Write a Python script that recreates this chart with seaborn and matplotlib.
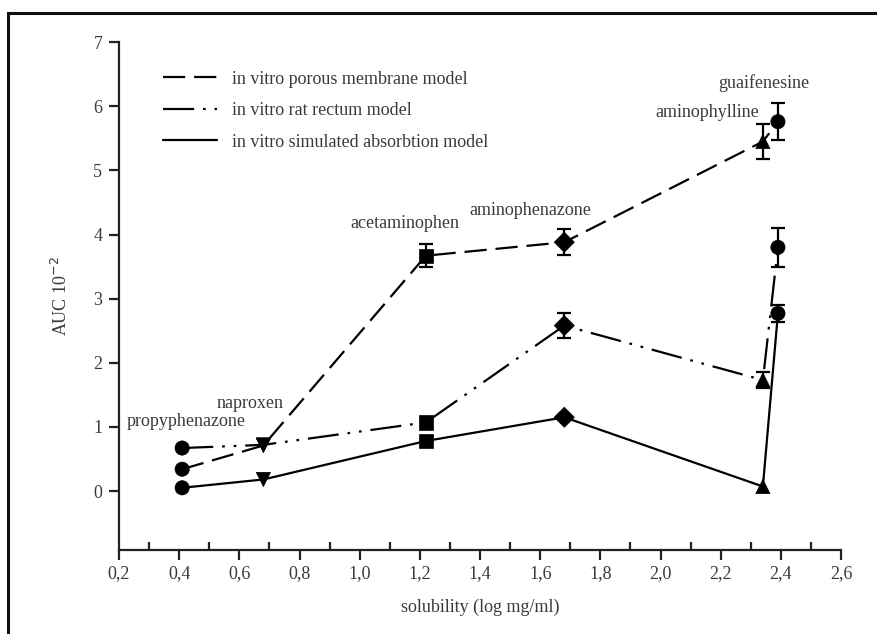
import matplotlib
matplotlib.use("Agg")
import matplotlib.pyplot as plt
import seaborn as sns
import pandas as pd
from matplotlib.ticker import FixedLocator, FuncFormatter
from matplotlib.lines import Line2D
from matplotlib.patches import Rectangle

# ---- data ----
drugs = ["propyphenazone", "naproxen", "acetaminophen", "aminophenazone", "aminophylline", "guaifenesine"]
solubility = [0.41, 0.68, 1.22, 1.68, 2.34, 2.39]
porous = [0.34, 0.71, 3.67, 3.88, 5.45, 5.76]
porous_err = [0.0, 0.0, 0.18, 0.20, 0.27, 0.29]
rectum = [0.67, 0.72, 1.07, 2.58, 1.73, 3.80]
rectum_err = [0.0, 0.0, 0.0, 0.20, 0.12, 0.30]
absorb = [0.05, 0.18, 0.78, 1.15, 0.07, 2.77]
absorb_err = [0.0, 0.0, 0.0, 0.0, 0.0, 0.13]
series_names = ["in vitro porous membrane model", "in vitro rat rectum model", "in vitro simulated absorbtion model"]
label_pos_x = [0.423, 0.635, 1.151, 1.566, 2.155, 2.344]
label_pos_y = [1.08, 1.36, 4.17, 4.37, 5.91, 6.36]
x_ticks = [0.2, 0.4, 0.6, 0.8, 1.0, 1.2, 1.4, 1.6, 1.8, 2.0, 2.2, 2.4, 2.6]
y_ticks = [0, 1, 2, 3, 4, 5, 6, 7]

sns.set_style("white")
plt.rcParams['font.family'] = ['Liberation Serif', 'DejaVu Serif']
txt_color = "#3a3a3a"

fig = plt.figure(figsize=(8.78, 6.34), dpi=100)
ax = fig.add_axes([0.1355, 0.1325, 0.8225, 0.801])

marker_map = {"propyphenazone": "o", "naproxen": "v", "acetaminophen": "s",
              "aminophenazone": "D", "aminophylline": "^", "guaifenesine": "o"}
styles = [(0, (10, 4)), (0, (14, 4, 1.2, 4, 1.2, 4)), "-"]
all_vals = [porous, rectum, absorb]
all_errs = [porous_err, rectum_err, absorb_err]

handles = []
for name, vals, errs, ls in zip(series_names, all_vals, all_errs, styles):
    df = pd.DataFrame({"x": solubility, "y": vals, "err": errs, "drug": drugs})
    sns.lineplot(data=df, x="x", y="y", estimator=None, sort=False, ax=ax,
                 color="black", linewidth=1.6, linestyle=ls, legend=False)
    ax.lines[-1].set_linestyle(ls)
    d = df[df["err"] > 0]
    ax.errorbar(d["x"], d["y"], yerr=d["err"], fmt="none", ecolor="black",
                elinewidth=1.6, capsize=5, capthick=1.6, zorder=3)
    sns.scatterplot(data=df, x="x", y="y", style="drug", markers=marker_map,
                    color="black", s=105, edgecolor="black", linewidth=0.5,
                    ax=ax, legend=False, zorder=4)
    handles.append(Line2D([0], [0], color="black", linewidth=1.6, linestyle=ls))

for name, lx, ly in zip(drugs, label_pos_x, label_pos_y):
    ax.text(lx, ly, name, ha="center", va="center", fontsize=13, color=txt_color)

ax.set_xlim(0.2, 2.6)
ax.set_ylim(-0.92, 7)
sns.despine(ax=ax)
for s in ["left", "bottom"]:
    ax.spines[s].set_linewidth(1.6)
    ax.spines[s].set_color("#222222")

ax.xaxis.set_major_locator(FixedLocator(x_ticks))
ax.xaxis.set_minor_locator(FixedLocator([0.3, 0.5, 0.7, 0.9, 1.1, 1.3, 1.5, 1.7, 1.9, 2.1, 2.3, 2.5]))
ax.xaxis.set_major_formatter(FuncFormatter(lambda v, p: f"{v:.1f}".replace(".", ",")))
ax.yaxis.set_major_locator(FixedLocator(y_ticks))
ax.tick_params(axis="x", which="major", direction="out", length=7, width=1.6,
               labelsize=13, labelcolor=txt_color, color="#222222", pad=4)
ax.tick_params(axis="x", which="minor", direction="in", length=6, width=1.6, color="#222222")
ax.tick_params(axis="y", which="major", direction="out", length=7, width=1.6,
               labelsize=13, labelcolor=txt_color, color="#222222", pad=5)
ax.xaxis.set_ticks_position("bottom")
ax.yaxis.set_ticks_position("left")

ax.set_xlabel("solubility (log mg/ml)", fontsize=13, color=txt_color, labelpad=12)
ax.set_ylabel("AUC 10$^{-2}$", fontsize=13, color=txt_color, labelpad=16)

leg = ax.legend(handles, series_names, loc="upper left", bbox_to_anchor=(0.051, 0.958),
                frameon=False, fontsize=13, handlelength=3.0, handletextpad=0.8,
                labelspacing=0.8, borderaxespad=0)
for t in leg.get_texts():
    t.set_color(txt_color)

# outer frame (top and left visible)
fig.patches.append(Rectangle((8 / 878, -0.05), 1.2, 1 - 13 / 634 + 0.05,
                             transform=fig.transFigure, fill=False,
                             edgecolor="#111111", linewidth=2.2, clip_on=False))

fig.savefig("out.png", dpi=100)
